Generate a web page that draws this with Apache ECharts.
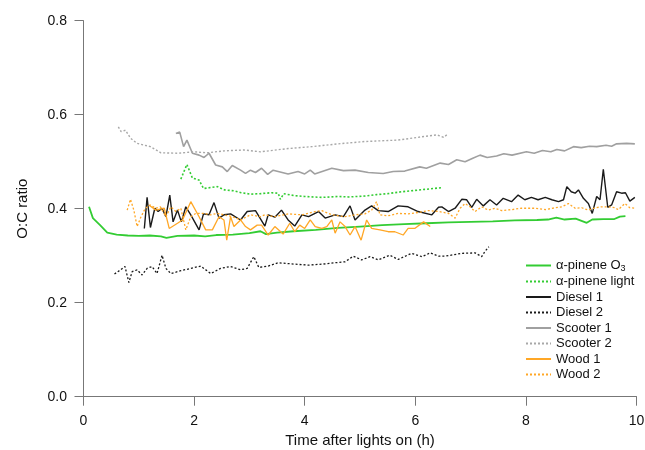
<!DOCTYPE html>
<html>
<head>
<meta charset="utf-8">
<script src="https://cdn.jsdelivr.net/npm/echarts@6/dist/echarts.min.js"></script>
<style>
  html, body { margin: 0; padding: 0; background: #fff; }
  #main { width: 645px; height: 450px; }
</style>
</head>
<body>
<div id="main"></div>
<script>
// series values, [time (h), O:C]
var pineneO3 = [[0.1,0.404],[0.17,0.38],[0.3,0.365],[0.43,0.349],[0.6,0.345],[0.8,0.343],[1.0,0.342],[1.2,0.343],[1.4,0.341],[1.5,0.338],[1.7,0.342],[2.0,0.343],[2.2,0.341],[2.4,0.344],[2.7,0.345],[3.0,0.348],[3.2,0.352],[3.3,0.346],[3.5,0.349],[3.8,0.352],[4.2,0.355],[4.6,0.359],[5.0,0.362],[5.4,0.365],[5.8,0.367],[6.2,0.369],[6.6,0.371],[7.0,0.372],[7.4,0.373],[7.8,0.375],[8.2,0.376],[8.4,0.377],[8.55,0.381],[8.7,0.377],[8.9,0.379],[9.1,0.370],[9.2,0.377],[9.4,0.378],[9.6,0.378],[9.7,0.383],[9.8,0.384]];

var pineneLight = [[1.76,0.463],[1.87,0.494],[1.97,0.465],[2.09,0.461],[2.17,0.443],[2.3,0.445],[2.42,0.447],[2.55,0.440],[2.72,0.438],[2.85,0.434],[3.02,0.431],[3.2,0.432],[3.4,0.434],[3.52,0.433],[3.56,0.420],[3.62,0.432],[3.8,0.428],[4.0,0.426],[4.31,0.424],[4.6,0.426],[4.8,0.425],[5.09,0.427],[5.3,0.430],[5.5,0.432],[5.75,0.436],[6.0,0.439],[6.25,0.442],[6.5,0.445]];

var diesel1 = [[1.1,0.358],[1.15,0.424],[1.21,0.36],[1.29,0.401],[1.35,0.394],[1.42,0.401],[1.49,0.383],[1.56,0.429],[1.62,0.372],[1.7,0.397],[1.77,0.372],[1.85,0.404],[1.94,0.387],[2.09,0.355],[2.17,0.389],[2.27,0.387],[2.36,0.413],[2.45,0.38],[2.54,0.387],[2.66,0.389],[2.84,0.376],[2.96,0.394],[3.11,0.396],[3.28,0.363],[3.34,0.387],[3.46,0.382],[3.58,0.397],[3.7,0.376],[3.82,0.363],[3.95,0.387],[4.07,0.383],[4.25,0.394],[4.37,0.38],[4.55,0.387],[4.7,0.383],[4.82,0.406],[4.91,0.376],[5.09,0.397],[5.21,0.406],[5.33,0.396],[5.51,0.394],[5.69,0.406],[5.87,0.404],[6.05,0.394],[6.3,0.387],[6.42,0.403],[6.48,0.404],[6.6,0.394],[6.72,0.401],[6.84,0.42],[6.93,0.419],[7.02,0.403],[7.11,0.42],[7.23,0.406],[7.35,0.419],[7.47,0.408],[7.59,0.422],[7.74,0.415],[7.86,0.429],[7.98,0.419],[8.1,0.424],[8.22,0.419],[8.35,0.424],[8.47,0.419],[8.59,0.415],[8.68,0.419],[8.74,0.447],[8.82,0.436],[8.89,0.433],[8.95,0.44],[9.04,0.422],[9.13,0.411],[9.2,0.39],[9.28,0.426],[9.34,0.419],[9.4,0.484],[9.48,0.403],[9.55,0.408],[9.64,0.436],[9.73,0.433],[9.8,0.434],[9.88,0.416],[9.97,0.424]];

var diesel2 = [[0.56,0.261],[0.67,0.27],[0.75,0.277],[0.82,0.243],[0.88,0.266],[0.97,0.27],[1.06,0.259],[1.15,0.273],[1.24,0.277],[1.33,0.262],[1.42,0.301],[1.49,0.273],[1.58,0.262],[1.76,0.268],[1.94,0.273],[2.12,0.278],[2.3,0.262],[2.48,0.273],[2.66,0.277],[2.84,0.27],[2.96,0.273],[3.08,0.298],[3.17,0.275],[3.34,0.278],[3.52,0.285],[3.82,0.282],[4.07,0.28],[4.31,0.282],[4.55,0.285],[4.73,0.287],[4.88,0.299],[5.03,0.291],[5.18,0.298],[5.33,0.291],[5.54,0.301],[5.69,0.292],[5.93,0.305],[6.12,0.298],[6.27,0.306],[6.42,0.299],[6.54,0.299],[6.84,0.305],[7.08,0.306],[7.2,0.298],[7.26,0.309],[7.33,0.319]];

var scooter1 = [[1.67,0.56],[1.74,0.563],[1.81,0.532],[1.87,0.546],[1.97,0.518],[2.09,0.514],[2.18,0.509],[2.27,0.518],[2.39,0.493],[2.51,0.489],[2.6,0.479],[2.69,0.492],[2.84,0.482],[2.93,0.475],[3.02,0.482],[3.11,0.477],[3.22,0.486],[3.33,0.473],[3.43,0.482],[3.7,0.474],[3.88,0.479],[4.0,0.474],[4.1,0.482],[4.18,0.474],[4.49,0.486],[4.7,0.481],[4.91,0.482],[5.15,0.477],[5.42,0.475],[5.6,0.479],[5.81,0.480],[6.08,0.489],[6.2,0.486],[6.45,0.497],[6.6,0.494],[6.75,0.504],[6.9,0.500],[7.05,0.508],[7.17,0.514],[7.3,0.509],[7.47,0.512],[7.6,0.517],[7.75,0.514],[8.01,0.521],[8.15,0.518],[8.3,0.524],[8.45,0.521],[8.56,0.526],[8.7,0.523],[8.86,0.532],[9.0,0.530],[9.15,0.533],[9.28,0.532],[9.45,0.535],[9.55,0.533],[9.64,0.538],[9.82,0.539],[9.97,0.538]];

var scooter2 = [[0.63,0.574],[0.68,0.564],[0.76,0.567],[0.85,0.55],[0.97,0.539],[1.21,0.532],[1.4,0.519],[1.7,0.518],[2.0,0.521],[2.24,0.519],[2.54,0.523],[2.9,0.525],[3.2,0.521],[3.7,0.528],[4.13,0.532],[4.61,0.538],[5.09,0.543],[5.69,0.546],[6.12,0.553],[6.39,0.557],[6.51,0.552],[6.57,0.557]];

var wood1 = [[1.18,0.408],[1.31,0.397],[1.46,0.401],[1.55,0.358],[1.7,0.369],[1.79,0.376],[1.94,0.415],[2.09,0.383],[2.21,0.355],[2.33,0.355],[2.45,0.383],[2.54,0.376],[2.59,0.333],[2.66,0.383],[2.72,0.362],[2.84,0.376],[2.93,0.362],[3.02,0.355],[3.14,0.365],[3.22,0.365],[3.34,0.344],[3.46,0.362],[3.61,0.346],[3.73,0.369],[3.82,0.351],[3.91,0.365],[4.0,0.358],[4.1,0.376],[4.19,0.362],[4.31,0.358],[4.4,0.362],[4.49,0.376],[4.55,0.348],[4.64,0.372],[4.73,0.362],[4.82,0.344],[4.91,0.362],[5.02,0.333],[5.12,0.376],[5.21,0.358],[5.36,0.355],[5.51,0.351],[5.63,0.351],[5.78,0.344],[5.87,0.358],[5.99,0.358],[6.15,0.372],[6.27,0.362]];

var wood2 = [[0.79,0.397],[0.85,0.42],[0.91,0.397],[0.97,0.362],[1.04,0.383],[1.12,0.401],[1.21,0.408],[1.3,0.401],[1.39,0.404],[1.49,0.383],[1.58,0.404],[1.67,0.394],[1.76,0.401],[1.85,0.355],[1.94,0.383],[2.03,0.39],[2.18,0.39],[2.3,0.387],[2.42,0.39],[2.54,0.387],[2.69,0.383],[2.84,0.376],[3.02,0.387],[3.2,0.383],[3.28,0.387],[3.45,0.383],[3.7,0.389],[3.95,0.387],[4.19,0.394],[4.31,0.396],[4.49,0.387],[4.73,0.383],[4.91,0.387],[5.09,0.389],[5.21,0.397],[5.3,0.415],[5.36,0.387],[5.51,0.385],[5.69,0.39],[5.87,0.389],[6.05,0.392],[6.24,0.396],[6.42,0.394],[6.6,0.39],[6.72,0.38],[6.81,0.401],[6.9,0.411],[6.99,0.404],[7.08,0.394],[7.2,0.404],[7.32,0.397],[7.44,0.401],[7.56,0.396],[7.74,0.398],[7.92,0.401],[8.16,0.401],[8.35,0.398],[8.53,0.402],[8.65,0.404],[8.77,0.411],[8.89,0.401],[9.01,0.402],[9.13,0.397],[9.25,0.402],[9.37,0.404],[9.49,0.404],[9.61,0.402],[9.67,0.398],[9.79,0.411],[9.88,0.402],[9.97,0.401]];

var xTicks = [0, 2, 4, 6, 8, 10];

var FONT = '"Liberation Sans", Arial, sans-serif';
var dots = [2, 2];

function mk(name, data, color, width, dashed) {
    return {
        name: name,
        type: 'line',
        data: data,
        symbol: 'none',
        showSymbol: false,
        lineStyle: { color: color, width: width, type: dashed ? dots : 'solid' },
        itemStyle: { color: color }
    };
}

var chart = echarts.init(document.getElementById('main'));

chart.setOption({
    animation: false,
    grid: {
        left: 83.5, right: 8.5, top: 20.7, bottom: 53.3,
        containLabel: false,
        outerBoundsMode: 'none'
    },
    legend: {
        orient: 'vertical',
        left: 520,
        top: 253,
        itemWidth: 25,
        itemHeight: 10,
        itemGap: 0.5,
        itemStyle: { opacity: 0 },
        textStyle: {
            fontFamily: FONT, fontSize: 13, color: '#111', lineHeight: 15,
            rich: {
                sub: { fontFamily: FONT, fontSize: 9, color: '#111', padding: [7, 0, 0, 0] }
            }
        },
        formatter: function (n) {
            return n === 'α-pinene O3' ? 'α-pinene O{sub|3}' : n;
        }
    },
    xAxis: {
        type: 'value',
        min: 0, max: 10, interval: 2,
        offset: 2,
        name: 'Time after lights on (h)',
        nameLocation: 'middle',
        nameGap: 35,
        nameTextStyle: { fontFamily: FONT, fontSize: 15, color: '#111' },
        axisLine: { lineStyle: { color: '#777', width: 1 } },
        axisTick: { show: true, length: 9, lineStyle: { color: '#777' } },
        axisLabel: {
            fontFamily: FONT, fontSize: 14, color: '#111', margin: 15,
            customValues: xTicks
        },
        splitLine: { show: false }
    },
    yAxis: {
        type: 'value',
        min: 0, max: 0.8, interval: 0.2,
        offset: 1.5,
        name: 'O:C ratio',
        nameLocation: 'middle',
        nameGap: 52,
        nameTextStyle: { fontFamily: FONT, fontSize: 15, color: '#111' },
        axisLine: { show: true, lineStyle: { color: '#777', width: 1 } },
        axisTick: { show: true, length: 9, lineStyle: { color: '#777' } },
        axisLabel: {
            fontFamily: FONT, fontSize: 14, color: '#111', margin: 15,
            formatter: function (v) { return v.toFixed(1); }
        },
        splitLine: { show: false }
    },
    series: [
        mk('α-pinene O3', pineneO3, '#33cc33', 1.8, false),
        mk('α-pinene light', pineneLight, '#33cc33', 1.6, true),
        mk('Diesel 1', diesel1, '#1a1a1a', 1.4, false),
        mk('Diesel 2', diesel2, '#1a1a1a', 1.3, true),
        mk('Scooter 1', scooter1, '#a0a0a0', 1.6, false),
        mk('Scooter 2', scooter2, '#a8a8a8', 1.4, true),
        mk('Wood 1', wood1, '#ffa726', 1.3, false),
        mk('Wood 2', wood2, '#ffa726', 1.3, true)
    ]
});
</script>
</body>
</html>
